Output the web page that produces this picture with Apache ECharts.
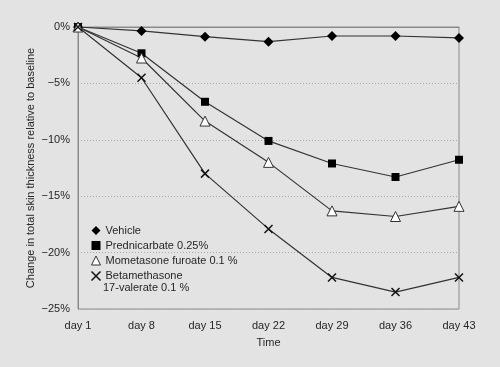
<!DOCTYPE html>
<html>
<head>
<meta charset="utf-8">
<script src="https://cdn.jsdelivr.net/npm/echarts@6/dist/echarts.min.js"></script>
<style>
html,body{margin:0;padding:0;background:#e3e3e3;}
#c{width:500px;height:367px;}
</style>
</head>
<body>
<div id="c"></div>
<script>
var categories = ['day 1','day 8','day 15','day 22','day 29','day 36','day 43'];
var vehicle = [0, -0.35, -0.86, -1.3, -0.8, -0.8, -0.97];
var prednicarbate = [0, -2.33, -6.63, -10.1, -12.1, -13.3, -11.77];
var mometasone = [0, -2.75, -8.34, -12.0, -16.3, -16.8, -15.9];
var betamethasone = [0, -4.5, -13.0, -17.9, -22.2, -23.5, -22.2];
var seriesNames = ['Vehicle','Prednicarbate 0.25%','Mometasone furoate 0.1 %','Betamethasone 17-valerate 0.1 %'];
var legendLabels = ['Vehicle','Prednicarbate 0.25%','Mometasone furoate 0.1 %','Betamethasone'];
var legendSecondLine = '17-valerate 0.1 %';

var FONT = 'Liberation Sans';
var TXT = '#262626';
var LINE = '#333';
var crossPath = 'path://M0,0L10,10M10,0L0,10';

function mk(name, data, symbol, size, itemStyle) {
  return {
    name: name, type: 'line', data: data, symbol: symbol, symbolSize: size,
    showAllSymbol: true, z: 3,
    lineStyle: {color: LINE, width: 1.2},
    itemStyle: itemStyle
  };
}

var chart = echarts.init(document.getElementById('c'), null, {renderer: 'canvas'});
chart.setOption({
  backgroundColor: '#e3e3e3',
  animation: false,
  textStyle: {fontFamily: FONT},
  grid: {left: 78, right: 41, top: 27, bottom: 58, show: true, borderColor: '#8a8a8a', borderWidth: 1, backgroundColor: 'transparent'},
  xAxis: {
    type: 'category', data: categories, boundaryGap: false,
    name: 'Time', nameLocation: 'middle', nameGap: 28,
    nameTextStyle: {color: TXT, fontSize: 11, fontFamily: FONT},
    axisLine: {lineStyle: {color: '#8a8a8a', width: 1}},
    axisTick: {show: false},
    axisLabel: {color: TXT, fontSize: 11, margin: 11, fontFamily: FONT},
    splitLine: {show: false}
  },
  yAxis: {
    type: 'value', min: -25, max: 0, interval: 5,
    name: 'Change in total skin thickness relative to baseline',
    nameLocation: 'middle', nameGap: 42, nameMoveOverlap: false,
    nameTextStyle: {color: TXT, fontSize: 11, fontFamily: FONT},
    axisLine: {show: true, lineStyle: {color: '#8a8a8a', width: 1}},
    axisTick: {show: false},
    axisLabel: {color: TXT, fontSize: 11, margin: 8, fontFamily: FONT,
      formatter: function (v) { return v === 0 ? '0%' : '\u2212' + Math.abs(v) + '%'; }},
    splitLine: {show: true, lineStyle: {color: '#a8a8a8', type: [1, 2], width: 1}}
  },
  legend: {
    orient: 'vertical', left: 89, top: 224, padding: 0, itemGap: 2,
    itemWidth: 9, itemHeight: 9,
    textStyle: {color: TXT, fontSize: 11, lineHeight: 13, fontFamily: FONT},
    formatter: function (n) { return legendLabels[seriesNames.indexOf(n)]; },
    data: [
      {name: seriesNames[0], icon: 'diamond', itemStyle: {color: '#000'}},
      {name: seriesNames[1], icon: 'rect', itemStyle: {color: '#000'}},
      {name: seriesNames[2], icon: 'triangle', itemStyle: {color: '#fff', borderColor: '#333', borderWidth: 1}},
      {name: seriesNames[3], icon: crossPath, itemStyle: {color: 'none', borderColor: '#111', borderWidth: 1.5}}
    ]
  },
  graphic: [{
    type: 'text', left: 103, top: 282,
    style: {text: legendSecondLine, fill: TXT, font: '11px "' + FONT + '"'}
  }],
  series: [
    mk(seriesNames[0], vehicle, 'diamond', 10, {color: '#000'}),
    mk(seriesNames[1], prednicarbate, 'rect', 8, {color: '#000'}),
    mk(seriesNames[2], mometasone, 'triangle', 10, {color: '#fff', borderColor: '#333', borderWidth: 1}),
    mk(seriesNames[3], betamethasone, crossPath, 8, {color: 'none', borderColor: '#111', borderWidth: 1.5})
  ]
});
</script>
</body>
</html>
